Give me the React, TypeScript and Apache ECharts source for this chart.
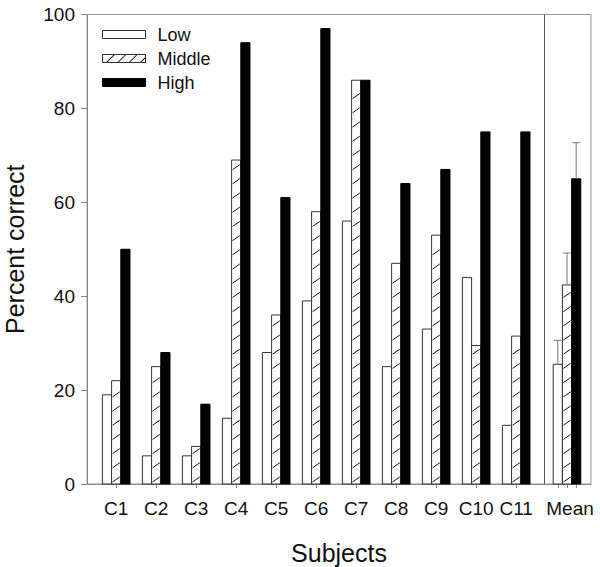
import React, { useEffect, useRef } from "react";
import * as echarts from "echarts";

// ---- data ----
const categories = ["C1", "C2", "C3", "C4", "C5", "C6", "C7", "C8", "C9", "C10", "C11", "Mean"];
const lowValues = [19, 6, 6, 14, 28, 39, 56, 25, 33, 44, 12.5, 25.5];
const middleValues = [22, 25, 8, 69, 36, 58, 86, 47, 53, 29.5, 31.5, 42.4];
const highValues = [50, 28, 17, 94, 61, 97, 86, 64, 67, 75, 75, 65];
const lowErrors = [null, null, null, null, null, null, null, null, null, null, null, 5.1];
const middleErrors = [null, null, null, null, null, null, null, null, null, null, null, 6.8];
const highErrors = [null, null, null, null, null, null, null, null, null, null, null, 7.7];
const yTicks = [0, 20, 40, 60, 80, 100];

// ---- layout (positions on the x value axis) ----
const catPos = [1, 2, 3, 4, 5, 6, 7, 8, 9, 10, 11, 12.27];
const labelPos = [1, 2, 3, 4, 5, 6, 7, 8, 9, 10, 11, 12.345];
const tickPos = [1, 2, 3, 4, 5, 6, 7, 8, 9, 10, 11, 12.045, 12.27, 12.495];
const separatorPos = 11.695;
const X_MIN = 0.27;
const X_MAX = 12.87;
const BAR_W = 0.23;
const OFFSET = 0.23;
const FONT = "'Liberation Sans', Arial, Helvetica, sans-serif";

function makeData(values: number[], errs: (number | null)[]) {
  return values.map((v, i) => [catPos[i], v, errs[i] == null ? 0 : errs[i]]);
}

function makeRender(offset: number, kind: "low" | "middle" | "high") {
  return (params: any, api: any) => {
    const x = api.value(0) + offset;
    const v = api.value(1);
    const err = api.value(2);
    const top = api.coord([x, v]);
    const base = api.coord([x, 0]);
    const w = api.size([BAR_W, 0])[0];
    const x0 = top[0] - w / 2;
    const children: any[] = [];
    children.push({
      type: "rect",
      shape: { x: x0, y: top[1], width: w, height: base[1] - top[1] },
      style: {
        fill: kind === "high" ? "#000" : "#fff",
        stroke: kind === "high" ? "#000" : "#333",
        lineWidth: 1,
      },
    });
    if (kind === "middle") {
      const rise = 5;
      for (let yb = base[1] - 2; yb - rise > top[1] + 1; yb -= 14.2) {
        children.push({
          type: "line",
          shape: { x1: x0 + 1, y1: yb, x2: x0 + w - 1, y2: yb - rise },
          style: { stroke: "#111", lineWidth: 1 },
        });
      }
    }
    if (err > 0) {
      const ec = api.coord([x, v + err]);
      children.push({
        type: "line",
        shape: { x1: ec[0], y1: top[1], x2: ec[0], y2: ec[1] },
        style: { stroke: "#777", lineWidth: 1 },
      });
      children.push({
        type: "line",
        shape: { x1: ec[0] - 4, y1: ec[1], x2: ec[0] + 4, y2: ec[1] },
        style: { stroke: "#777", lineWidth: 1 },
      });
    }
    return { type: "group", children };
  };
}

export default function App() {
  const ref = useRef<HTMLDivElement>(null);
  useEffect(() => {
    if (!ref.current) return;
    const chart = echarts.init(ref.current, null, { renderer: "svg" });
    const option: any = {
      animation: false,
      backgroundColor: "#fff",
      textStyle: { fontFamily: FONT },
      grid: {
        left: 87,
        right: 9,
        top: 14.5,
        bottom: 83,
        containLabel: false,
        outerBoundsMode: "none",
        show: true,
        borderColor: "#999",
        borderWidth: 1,
        backgroundColor: "transparent",
      },
      legend: {
        orient: "vertical",
        left: 102,
        top: 25.5,
        padding: 0,
        itemWidth: 43,
        itemHeight: 8,
        itemGap: 6,
        selectedMode: false,
        textStyle: { fontSize: 18, lineHeight: 18, fontFamily: FONT, color: "#111", padding: [0, 0, 0, 7] },
        data: [
          { name: "Low", icon: "rect", itemStyle: { color: "#fff", borderColor: "#333", borderWidth: 1 } },
          {
            name: "Middle",
            icon: "rect",
            itemStyle: {
              color: "#fff",
              borderColor: "#333",
              borderWidth: 1,
              decal: {
                symbol: "rect",
                symbolSize: 1,
                color: "#222",
                dashArrayX: [1, 0],
                dashArrayY: [1, 7],
                rotation: -Math.PI / 4,
              },
            },
          },
          { name: "High", icon: "rect", itemStyle: { color: "#000", borderColor: "#000", borderWidth: 1 } },
        ],
      },
      xAxis: {
        type: "value",
        min: X_MIN,
        max: X_MAX,
        name: "Subjects",
        nameLocation: "middle",
        nameGap: 56,
        nameTextStyle: { fontSize: 25, color: "#111", fontFamily: FONT },
        splitLine: { show: false },
        axisLine: { show: true, lineStyle: { color: "#888", width: 1 } },
        axisTick: { show: true, length: 4, lineStyle: { color: "#888" }, customValues: tickPos },
        axisLabel: {
          fontSize: 19,
          color: "#111",
          margin: 15,
          fontFamily: FONT,
          customValues: labelPos,
          formatter: (val: number) => {
            const i = labelPos.findIndex((p) => Math.abs(p - val) < 1e-6);
            return i >= 0 ? categories[i] : "";
          },
        },
      },
      yAxis: {
        type: "value",
        min: 0,
        max: 100,
        interval: 20,
        name: "Percent correct",
        nameLocation: "middle",
        nameGap: 60,
        nameTextStyle: { fontSize: 25, color: "#111", fontFamily: FONT },
        splitLine: { show: false },
        axisLine: { show: true, lineStyle: { color: "#888", width: 1 } },
        axisTick: { show: true, length: 6, lineStyle: { color: "#888" }, customValues: yTicks },
        axisLabel: { fontSize: 19, color: "#111", margin: 12, fontFamily: FONT, customValues: yTicks },
      },
      series: [
        {
          name: "Low",
          type: "custom",
          renderItem: makeRender(-OFFSET, "low"),
          encode: { x: 0, y: 1 },
          itemStyle: { color: "#fff", borderColor: "#333" },
          data: makeData(lowValues, lowErrors),
          markLine: {
            silent: true,
            symbol: "none",
            label: { show: false },
            lineStyle: { color: "#555", width: 1, type: "solid" },
            data: [{ xAxis: separatorPos }],
          },
        },
        {
          name: "Middle",
          type: "custom",
          renderItem: makeRender(0, "middle"),
          encode: { x: 0, y: 1 },
          itemStyle: { color: "#fff", borderColor: "#333" },
          data: makeData(middleValues, middleErrors),
        },
        {
          name: "High",
          type: "custom",
          renderItem: makeRender(OFFSET, "high"),
          encode: { x: 0, y: 1 },
          itemStyle: { color: "#000" },
          data: makeData(highValues, highErrors),
        },
      ],
    };
    chart.setOption(option);
    return () => chart.dispose();
  }, []);
  return (
    <div
      ref={ref}
      style={{ position: "absolute", left: 0, top: 0, width: 600, height: 567, background: "#fff" }}
    />
  );
}
